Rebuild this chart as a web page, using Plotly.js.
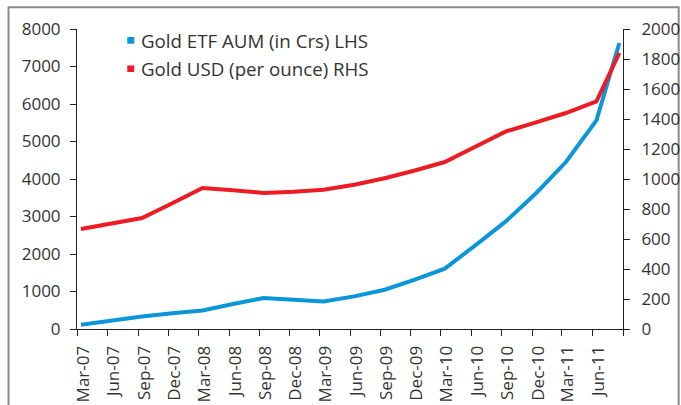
<!DOCTYPE html>
<html>
<head>
<meta charset="utf-8">
<script src="https://cdn.plot.ly/plotly-3.0.1.min.js"></script>
<style>
html,body{margin:0;padding:0;background:#fff;}
#chart{width:681px;height:405px;}
</style>
</head>
<body>
<div id="chart"></div>
<script>
// Observation dates (quarterly, last point in August 2011)
const dates = ['2007-03-13','2007-06-13','2007-09-13','2007-12-13','2008-03-13','2008-06-13',
  '2008-09-13','2008-12-13','2009-03-13','2009-06-13','2009-09-13','2009-12-13',
  '2010-03-13','2010-06-13','2010-09-13','2010-12-13','2011-03-13','2011-06-13','2011-08-21'];
// Gold ETF AUM (Rs crore) - left axis
const etfAum = [115, 230, 336, 420, 496, 665, 827, 780, 736, 870, 1048, 1315,
  1608, 2230, 2870, 3620, 4453, 5563, 7627];
// Gold price (USD per ounce) - right axis
const goldUsd = [667, 702, 740, 838, 940, 925, 907, 915, 928, 962, 1005, 1057,
  1113, 1215, 1317, 1377, 1440, 1517, 1840];
const seriesNames = ['Gold ETF AUM (in Crs) LHS', 'Gold USD (per ounce) RHS'];
const seriesColors = ['#0a96d8', '#ed1c24'];
// x tick positions and labels (last tick is unlabeled)
const xTickVals = ['2007-03-01','2007-06-01','2007-09-01','2007-12-01','2008-03-01','2008-06-01',
  '2008-09-01','2008-12-01','2009-03-01','2009-06-01','2009-09-01','2009-12-01',
  '2010-03-01','2010-06-01','2010-09-01','2010-12-01','2011-03-01','2011-06-01','2011-09-01'];
const xTickText = ['Mar-07','Jun-07','Sep-07','Dec-07','Mar-08','Jun-08','Sep-08','Dec-08',
  'Mar-09','Jun-09','Sep-09','Dec-09','Mar-10','Jun-10','Sep-10','Dec-10','Mar-11','Jun-11',''];
const leftTicks = [0,1000,2000,3000,4000,5000,6000,7000,8000];
const rightTicks = [0,200,400,600,800,1000,1200,1400,1600,1800,2000];

const font = 'Open Sans, sans-serif';
const txt = '#333333';

const traces = [
  {x: dates, y: etfAum, name: seriesNames[0], type: 'scatter', mode: 'lines',
   line: {color: seriesColors[0], width: 4}, yaxis: 'y', showlegend: false},
  {x: dates, y: goldUsd, name: seriesNames[1], type: 'scatter', mode: 'lines',
   line: {color: seriesColors[1], width: 4}, yaxis: 'y2', showlegend: false}
];

const L = 77, R = 623.3, T = 29.3, B = 329.3;
const W = R - L, H = B - T;
const px = v => (v - L) / W;
const py = v => (B - v) / H;

const layout = {
  width: 681, height: 405,
  margin: {l: 77, r: 58, t: 29, b: 76, pad: 0},
  paper_bgcolor: '#fff', plot_bgcolor: '#fff',
  font: {family: font, size: 17, color: txt},
  showlegend: false,
  xaxis: {
    type: 'date',
    range: ['2007-03-01', '2011-09-01'],
    tickmode: 'array', tickvals: xTickVals, ticktext: xTickText,
    tickangle: -90, ticks: 'outside', ticklen: 6, tickcolor: '#222',
    showline: true, linecolor: '#222', linewidth: 1,
    showgrid: false, zeroline: false,
    ticklabelshift: 6, ticklabelstandoff: 3,
    tickfont: {family: font, size: 17, color: txt}
  },
  yaxis: {
    range: [0, 8000], tickvals: leftTicks, ticks: 'outside', ticklen: 6, tickcolor: '#222',
    showline: true, linecolor: '#222', linewidth: 1, showgrid: false, zeroline: false,
    ticklabelstandoff: 6,
    tickfont: {family: font, size: 17, color: txt}
  },
  yaxis2: {
    range: [0, 2000], tickvals: rightTicks, overlaying: 'y', side: 'right',
    ticks: 'outside', ticklen: 6, tickcolor: '#222',
    showline: true, linecolor: '#222', linewidth: 1, showgrid: false, zeroline: false,
    ticklabelstandoff: 8,
    tickfont: {family: font, size: 17, color: txt}
  },
  shapes: [
    {type: 'rect', xref: 'paper', yref: 'paper',
     x0: px(8.5), x1: px(679), y0: py(420), y1: py(7.5),
     line: {color: '#8a8a8a', width: 2}, fillcolor: 'rgba(0,0,0,0)', layer: 'below'},
    {type: 'rect', xref: 'paper', yref: 'paper',
     x0: px(127.3), x1: px(134.3), y0: py(44), y1: py(37.3),
     line: {width: 0}, fillcolor: seriesColors[0]},
    {type: 'rect', xref: 'paper', yref: 'paper',
     x0: px(127.3), x1: px(134.3), y0: py(72.3), y1: py(65.7),
     line: {width: 0}, fillcolor: seriesColors[1]}
  ],
  annotations: [
    {xref: 'paper', yref: 'paper', x: px(139), y: py(40.5), xanchor: 'left', yanchor: 'middle',
     text: seriesNames[0], showarrow: false, font: {family: font, size: 18.7, color: txt}},
    {xref: 'paper', yref: 'paper', x: px(139), y: py(69), xanchor: 'left', yanchor: 'middle',
     text: seriesNames[1], showarrow: false, font: {family: font, size: 18.7, color: txt}}
  ]
};

Plotly.newPlot('chart', traces, layout, {staticPlot: true, displayModeBar: false});
</script>
</body>
</html>
